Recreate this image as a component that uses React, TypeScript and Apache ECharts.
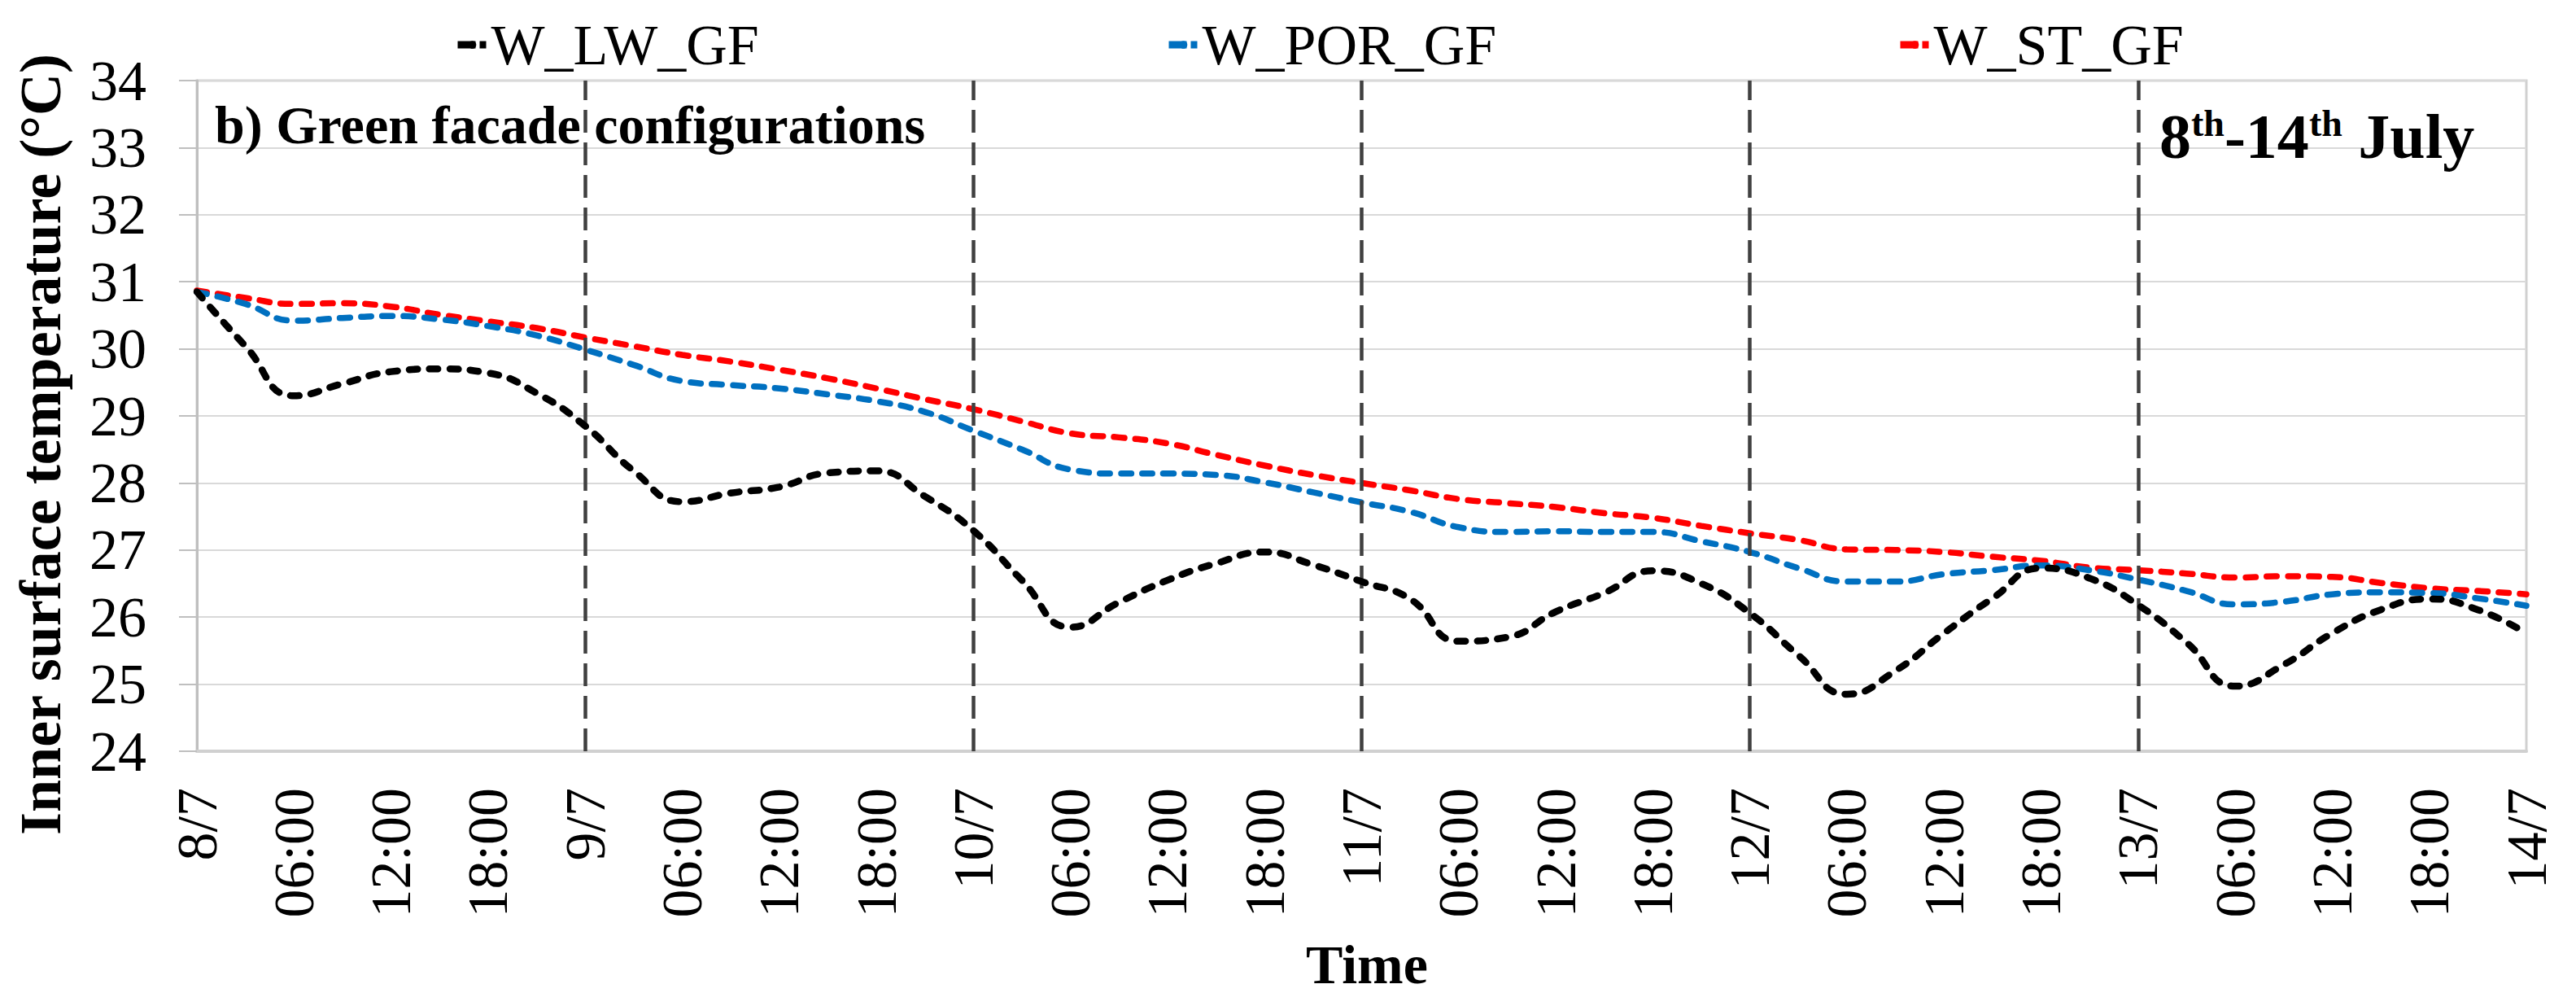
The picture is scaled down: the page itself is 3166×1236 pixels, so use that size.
import React, { useEffect, useRef } from "react";
import * as echarts from "echarts";

// ---- data ----
const seriesNames = ["W_LW_GF", "W_POR_GF", "W_ST_GF"];
const STEP_HOURS = 3; // one reading every 3 hours, from 8/7 00:00 to 14/7 00:00
const DAY_START = 8; // 8 July
const X_MAX_HOURS = 144;
const X_TICK_HOURS = 6;
const Y_MIN = 24;
const Y_MAX = 34;
const Y_INTERVAL = 1;
const dayLineHours = [24, 48, 72, 96, 120];

const wLwGf = [
  30.85, 30.04, 29.3, 29.48, 29.66, 29.7, 29.64, 29.34,
  28.85, 28.18, 27.72, 27.85, 27.94, 28.15, 28.18, 27.8,
  27.29, 26.55, 25.85, 26.22, 26.55, 26.8, 26.97, 26.78,
  26.53, 26.27, 25.64, 25.7, 26.08, 26.36, 26.69, 26.5,
  26.06, 25.43, 24.85, 25.2, 25.76, 26.28, 26.73, 26.58,
  26.18, 25.62, 24.97, 25.29, 25.76, 26.11, 26.27, 26.11,
  25.76,
];
const wPorGf = [
  30.85, 30.67, 30.42, 30.46, 30.49, 30.44, 30.34, 30.2,
  29.99, 29.76, 29.52, 29.46, 29.41, 29.32, 29.22, 29.06,
  28.78, 28.5, 28.2, 28.14, 28.14, 28.12, 28.01, 27.86,
  27.71, 27.57, 27.34, 27.27, 27.28, 27.27, 27.27, 27.13,
  26.97, 26.73, 26.53, 26.53, 26.64, 26.7, 26.77, 26.7,
  26.56, 26.39, 26.19, 26.23, 26.34, 26.37, 26.36, 26.28,
  26.17,
];
const wStGf = [
  30.87, 30.76, 30.67, 30.68, 30.63, 30.51, 30.41, 30.31,
  30.17, 30.04, 29.91, 29.81, 29.69, 29.56, 29.41, 29.25,
  29.1, 28.92, 28.74, 28.68, 28.59, 28.42, 28.26, 28.12,
  28.0, 27.89, 27.76, 27.7, 27.64, 27.55, 27.48, 27.36,
  27.25, 27.15, 27.01, 27.0, 26.97, 26.9, 26.84, 26.74,
  26.7, 26.65, 26.59, 26.61, 26.6, 26.51, 26.43, 26.39,
  26.34,
];
const seriesValues = [wLwGf, wPorGf, wStGf];
const seriesColors = ["#000000", "#0070C0", "#FF0000"];

const FONT = "'Liberation Serif', 'Times New Roman', serif";

function formatHour(h: number): string {
  if (h % 24 === 0) return `${DAY_START + h / 24}/7`;
  return `${String(h % 24).padStart(2, "0")}:00`;
}

export default function App() {
  const ref = useRef<HTMLDivElement>(null);

  useEffect(() => {
    document.body.style.margin = "0";
    if (!ref.current) return;
    const chart = echarts.init(ref.current, null, { renderer: "svg" });

    const legendLefts = [558, 1432, 2331];
    const lineWidths = [8.5, 7.5, 7.5];
    const dashPatterns = [
      [10.5, 14.5],
      [12.5, 13.5],
      [12.5, 13.5],
    ];

    const series: any[] = seriesNames.map((name, i) => ({
      name,
      type: "line",
      smooth: true,
      symbol: "none",
      data: seriesValues[i].map((v, k) => [k * STEP_HOURS, v]),
      lineStyle: {
        color: seriesColors[i],
        width: lineWidths[i],
        type: dashPatterns[i],
        cap: "round",
      },
      itemStyle: { color: seriesColors[i] },
      z: 3 + (2 - i),
    }));

    series[0].markLine = {
      silent: true,
      symbol: ["none", "none"],
      label: { show: false },
      animation: false,
      lineStyle: { color: "#404040", type: [28, 12], width: 4.5 },
      data: dayLineHours.map((h) => ({ xAxis: h })),
    };

    const option: any = {
      animation: false,
      backgroundColor: "#ffffff",
      grid: {
        left: 242,
        right: 61,
        top: 99,
        bottom: 313,
        containLabel: false,
        show: true,
        borderColor: "#d0d0d0",
        borderWidth: 3,
      },
      legend: seriesNames.map((name, i) => ({
        data: [name],
        left: legendLefts[i],
        top: 20,
        padding: 0,
        itemWidth: 36,
        itemHeight: 12,
        itemGap: 0,
        selectedMode: false,
        textStyle: { fontFamily: FONT, fontSize: 70, color: "#000" },
        lineStyle: { type: [22, 5, 8, 100], width: 9, cap: "butt" },
      })),
      xAxis: {
        type: "value",
        min: 0,
        max: X_MAX_HOURS,
        interval: X_TICK_HOURS,
        axisLine: { show: true, lineStyle: { color: "#d0d0d0", width: 4 } },
        axisTick: { show: false },
        splitLine: { show: false },
        axisLabel: {
          rotate: 90,
          margin: 45,
          fontFamily: FONT,
          fontSize: 70,
          color: "#000",
          showMinLabel: true,
          showMaxLabel: true,
          formatter: (v: number) => formatHour(v),
        },
      },
      yAxis: {
        type: "value",
        min: Y_MIN,
        max: Y_MAX,
        interval: Y_INTERVAL,
        axisLine: { show: true, lineStyle: { color: "#bfbfbf", width: 3 } },
        axisTick: { show: true, length: 22, lineStyle: { color: "#bfbfbf", width: 2 } },
        splitLine: { show: true, lineStyle: { color: "#d9d9d9", width: 2 } },
        axisLabel: { margin: 62, fontFamily: FONT, fontSize: 70, color: "#000" },
      },
      graphic: [
        {
          type: "text",
          x: 264,
          y: 153,
          z: 10,
          style: {
            text: "b) Green facade configurations",
            fontFamily: FONT,
            fontSize: 66,
            fontWeight: "bold",
            fill: "#000",
            align: "left",
            verticalAlign: "middle",
          },
        },
        {
          type: "text",
          x: 2654,
          y: 128,
          z: 10,
          style: {
            text: "{n|8}{s|th}{n|-14}{s|th}{n| July}",
            align: "left",
            verticalAlign: "top",
            rich: {
              n: { fontFamily: FONT, fontSize: 78, fontWeight: "bold", lineHeight: 78, fill: "#000" },
              s: { fontFamily: FONT, fontSize: 46, fontWeight: "bold", lineHeight: 46, verticalAlign: "top", fill: "#000" },
            },
          },
        },
        {
          type: "text",
          x: 50,
          y: 546,
          rotation: Math.PI / 2,
          style: {
            text: "Inner surface temperature (°C)",
            fontFamily: FONT,
            fontSize: 72,
            fontWeight: "bold",
            fill: "#000",
            align: "center",
            verticalAlign: "middle",
          },
        },
        {
          type: "text",
          x: 1680,
          y: 1185,
          style: {
            text: "Time",
            fontFamily: FONT,
            fontSize: 68,
            fontWeight: "bold",
            fill: "#000",
            align: "center",
            verticalAlign: "middle",
          },
        },
      ],
      series,
    };

    chart.setOption(option);
    return () => chart.dispose();
  }, []);

  return <div ref={ref} style={{ width: 3166, height: 1236 }} />;
}
